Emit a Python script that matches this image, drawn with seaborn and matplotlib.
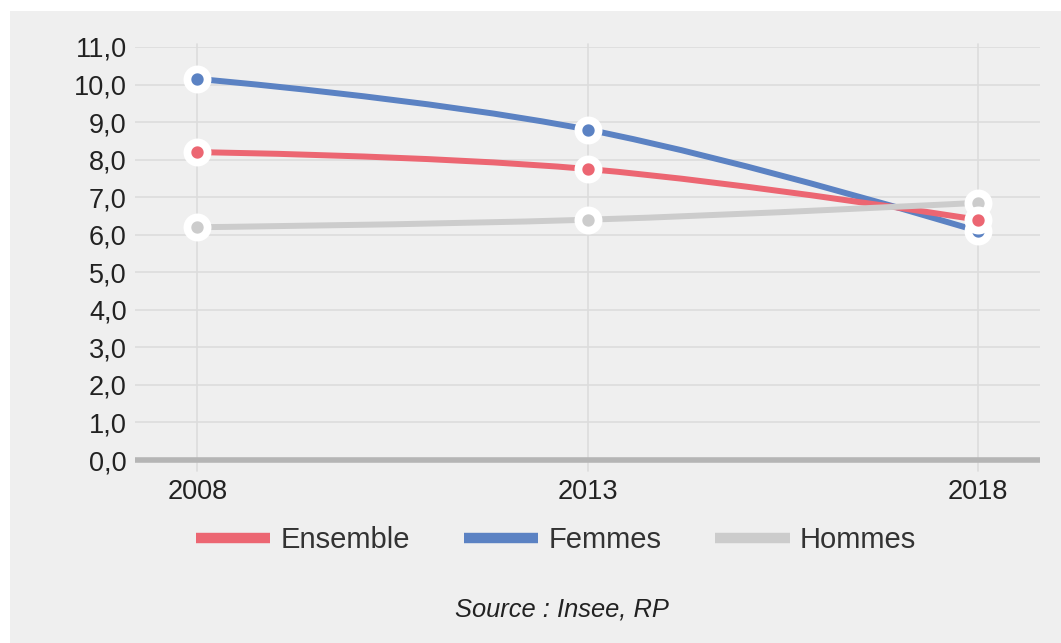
import numpy as np
import pandas as pd
import matplotlib
matplotlib.use("Agg")
import matplotlib.pyplot as plt
from matplotlib.path import Path
from matplotlib.patches import PathPatch, Rectangle
from matplotlib.lines import Line2D
import seaborn as sns

years = [2008, 2013, 2018]
ensemble = [8.2, 7.75, 6.4]
femmes = [10.15, 8.8, 6.1]
hommes = [6.2, 6.4, 6.85]
series_names = ["Ensemble", "Femmes", "Hommes"]
colors = {"Ensemble": "#ec6672", "Femmes": "#5b82c3", "Hommes": "#cccccc"}
y_ticks = [0, 1, 2, 3, 4, 5, 6, 7, 8, 9, 10, 11]
source_text = "Source : Insee, RP"

df = pd.DataFrame({"year": years * 3,
                   "value": ensemble + femmes + hommes,
                   "serie": sum([[n] * len(years) for n in series_names], [])})

sns.set_theme(style="white")
plt.rcParams["font.family"] = ["Liberation Sans", "DejaVu Sans"]

BG = "#efefef"
fig = plt.figure(figsize=(10.61, 6.43), dpi=100, facecolor="white")
fig.patches.append(Rectangle((10 / 1061, 0), 1, 1 - 11 / 643, transform=fig.transFigure,
                             facecolor=BG, edgecolor="none", zorder=-10))
ax = fig.add_axes([135 / 1061, 1 - 460 / 643, (1040 - 135) / 1061, (460 - 47) / 643])
ax.set_facecolor(BG)


def spline_path(xs, ys, smoothing=1.5):
    denom = smoothing + 1
    n = len(xs)
    right = [None] * n
    verts = [(xs[0], ys[0])]
    codes = [Path.MOVETO]
    for i in range(1, n):
        px, py = xs[i], ys[i]
        lx, ly = xs[i - 1], ys[i - 1]
        lcx, lcy = px, py
        if i < n - 1:
            nx, ny = xs[i + 1], ys[i + 1]
            lcx = (smoothing * px + lx) / denom
            lcy = (smoothing * py + ly) / denom
            rcx = (smoothing * px + nx) / denom
            rcy = (smoothing * py + ny) / denom
            corr = 0
            if rcx != lcx:
                corr = ((rcy - lcy) * (rcx - px)) / (rcx - lcx) + py - rcy
            lcy += corr
            rcy += corr
            if lcy > ly and lcy > py:
                lcy = max(ly, py); rcy = 2 * py - lcy
            elif lcy < ly and lcy < py:
                lcy = min(ly, py); rcy = 2 * py - lcy
            if rcy > ny and rcy > py:
                rcy = max(ny, py); lcy = 2 * py - rcy
            elif rcy < ny and rcy < py:
                rcy = min(ny, py); lcy = 2 * py - rcy
            right[i] = (rcx, rcy)
        prev_ctrl = right[i - 1] if right[i - 1] is not None else (lx, ly)
        verts += [prev_ctrl, (lcx, lcy), (px, py)]
        codes += [Path.CURVE4] * 3
    return Path(verts, codes)


# grid
for yv in y_ticks[1:]:
    ax.axhline(yv, color="#dcdcdc", lw=1.2, zorder=1)
for xv in years:
    ax.plot([xv, xv], [-0.3, 11.08], color="#dcdcdc", lw=1.2, zorder=1, clip_on=False)
ax.plot([2007.2, 2018.8], [0, 0], color="#b5b5b5", lw=4, zorder=2, clip_on=False,
        solid_capstyle="butt")

line_order = ["Femmes", "Ensemble", "Hommes"]
for name in line_order:
    sub = df[df.serie == name]
    p = spline_path(sub.year.tolist(), sub.value.tolist())
    ax.add_patch(PathPatch(p, facecolor="none", edgecolor=colors[name], lw=4.3,
                           zorder=3, capstyle="round", joinstyle="round"))

marker_order = ["Femmes", "Hommes", "Ensemble"]
for k, name in enumerate(marker_order):
    sub = df[df.serie == name]
    sns.scatterplot(data=sub, x="year", y="value", ax=ax, color=colors[name], s=14.5 ** 2,
                    edgecolor="white", linewidth=5.6, zorder=5 + k, legend=False, clip_on=False)

ax.set_xlim(2007.2, 2018.8)
ax.set_ylim(0, 11)
ax.set_xticks(years)
ax.set_xticklabels([str(y) for y in years])
ax.set_yticks(y_ticks)
ax.set_yticklabels([f"{v},0" for v in y_ticks])
ax.tick_params(axis="y", length=0, pad=6, labelsize=19.5, labelcolor="#222222")
ax.tick_params(axis="x", length=0, pad=14, labelsize=19.5, labelcolor="#222222")
ax.set_xlabel("")
ax.set_ylabel("")
for s in ax.spines.values():
    s.set_visible(False)

handles = [Line2D([0], [0], color=colors[n], lw=7.5, solid_capstyle="butt") for n in series_names]
leg = fig.legend(handles, series_names, loc="center", bbox_to_anchor=(0.524, 0.16), ncol=3,
                 frameon=False, fontsize=21, handlelength=2.55, handletextpad=0.35,
                 columnspacing=1.85, labelcolor="#333333")

fig.text(0.53, 1 - 610 / 643, source_text, ha="center", va="center", fontsize=18.4,
         style="italic", color="#222222")

fig.savefig("out.png", dpi=100, facecolor="white")
